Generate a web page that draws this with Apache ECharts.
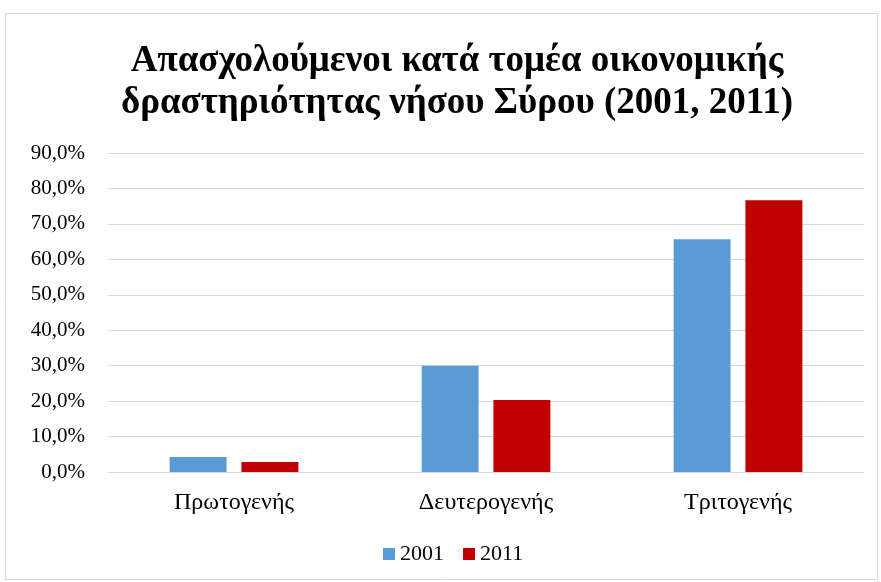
<!DOCTYPE html>
<html>
<head>
<meta charset="utf-8">
<script src="https://cdn.jsdelivr.net/npm/echarts@6/dist/echarts.min.js"></script>
<style>
  html, body { margin: 0; padding: 0; background: #fff; }
  #chart { width: 881px; height: 582px; }
</style>
</head>
<body>
<div id="chart"></div>
<script>
// Employment share by sector of economic activity, Syros island
const categories = ['Πρωτογενής', 'Δευτερογενής', 'Τριτογενής'];
const seriesNames = ['2001', '2011'];
const values2001 = [4.2, 30.0, 65.7];
const values2011 = [2.8, 20.3, 76.7];
const colors = ['#5B9BD5', '#C00000'];

const serif = "'Liberation Serif', 'Times New Roman', serif";

const chart = echarts.init(document.getElementById('chart'), null, { renderer: 'canvas' });

chart.setOption({
  animation: false,
  backgroundColor: '#ffffff',
  graphic: [{
    type: 'rect',
    shape: { x: 5.5, y: 13.5, width: 872, height: 566 },
    style: { fill: 'none', stroke: '#d9d9d9', lineWidth: 1 },
    z: -1
  }],
  title: {
    text: 'Απασχολούμενοι κατά τομέα οικονομικής\nδραστηριότητας νήσου Σύρου (2001, 2011)',
    left: 452,
    top: 35,
    textAlign: 'center',
    textStyle: {
      fontFamily: serif,
      fontSize: 37,
      fontWeight: 'bold',
      color: '#000000',
      lineHeight: 42
    }
  },
  legend: {
    data: seriesNames,
    top: 538,
    left: 378,
    itemWidth: 12,
    itemHeight: 12,
    itemGap: 19,
    icon: 'rect',
    textStyle: { fontFamily: serif, fontSize: 22, color: '#000000' }
  },
  grid: { left: 108, right: 17, top: 153, bottom: 110, containLabel: false },
  xAxis: {
    type: 'category',
    data: categories,
    axisLine: { show: true, lineStyle: { color: '#d9d9d9', width: 1 } },
    axisTick: { show: false },
    axisLabel: { fontFamily: serif, fontSize: 24, color: '#000000', margin: 19 }
  },
  yAxis: {
    type: 'value',
    min: 0,
    max: 90,
    interval: 10,
    axisLine: { show: false },
    axisTick: { show: false },
    splitLine: { lineStyle: { color: '#d9d9d9', width: 1 } },
    axisLabel: {
      fontFamily: serif, fontSize: 21, color: '#000000', margin: 23,
      formatter: v => v.toFixed(1).replace('.', ',') + '%'
    }
  },
  series: [
    {
      name: seriesNames[0], type: 'bar', data: values2001,
      itemStyle: { color: colors[0] },
      barWidth: '22.6%', barGap: '26%'
    },
    {
      name: seriesNames[1], type: 'bar', data: values2011,
      itemStyle: { color: colors[1] },
      barWidth: '22.6%', barGap: '26%'
    }
  ]
});
</script>
</body>
</html>
